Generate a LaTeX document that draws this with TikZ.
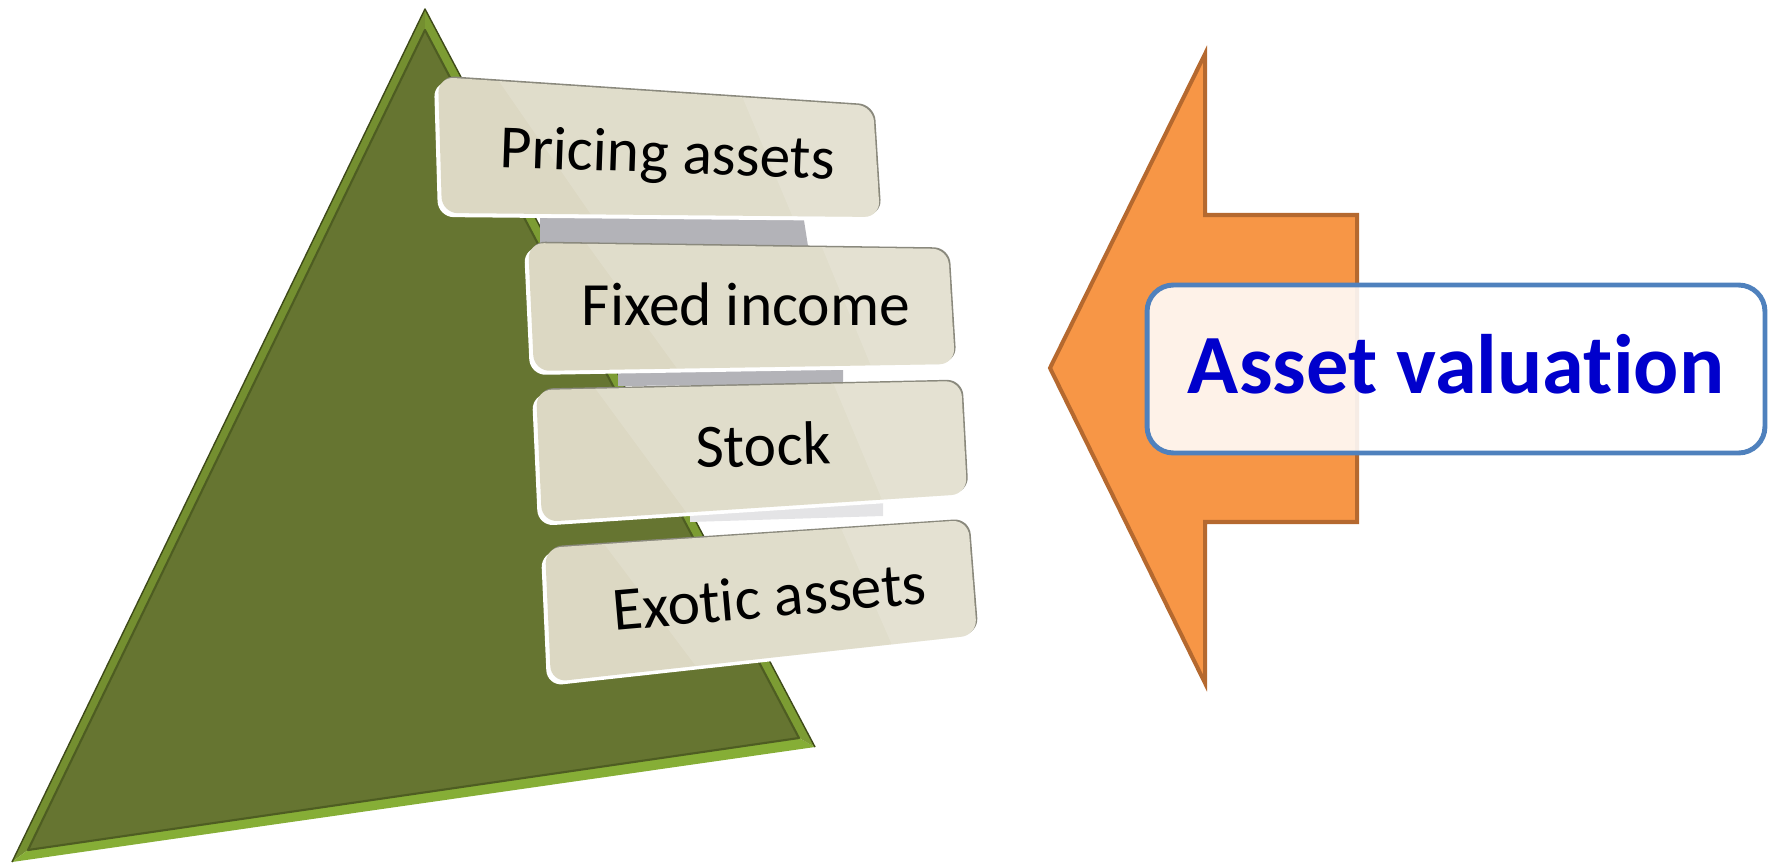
\documentclass[tikz,border=0pt]{standalone}
\usepackage{fontspec}
\setmainfont{Carlito}[Ligatures=NoCommon]
\usetikzlibrary{calc}
\definecolor{pyrFace}{HTML}{667531}
\definecolor{pyrLeft}{HTML}{748F30}
\definecolor{pyrBottom}{HTML}{86AE36}
\definecolor{pyrRight}{HTML}{7C9C33}
\definecolor{pyrDark}{HTML}{3E4A18}
\definecolor{pyrInner}{HTML}{4E5D22}
\definecolor{tierFill}{HTML}{DCD8C3}
\definecolor{tierLine}{HTML}{8A897D}
\definecolor{gapShade}{HTML}{B3B3B8}
\definecolor{arrowFill}{HTML}{F79646}
\definecolor{arrowLine}{HTML}{B5692F}
\definecolor{labelLine}{HTML}{4F81BD}
\definecolor{labelText}{HTML}{0000CC}
\tikzset{
  tierrim/.style={fill=white, rounded corners=9pt},
  tieredge/.style={fill=tierLine, rounded corners=9pt},
  tierbody/.style={fill=tierFill, rounded corners=9pt},
  tiergloss/.style={fill=white, opacity=0.14},
  tiertext/.style={anchor=base, font=\fontsize{35}{40}\selectfont, text=black, inner sep=0pt},
  gap/.style={fill=gapShade},
  bigarrow/.style={fill=arrowFill, draw=arrowLine, line width=2.3pt, line join=miter},
  labelbox/.style={draw=labelLine, line width=2.8pt, fill=white, fill opacity=0.88,
    rounded corners=15pt, minimum width=12.36cm, minimum height=3.36cm, inner sep=0pt},
}
% one tier of the stack: four corners (x,y), text position, rotation, name, text
\newcommand\tierbox[8]{%
  \coordinate (#7a) at (#1);
  \coordinate (#7b) at (#2);
  \coordinate (#7c) at (#3);
  \coordinate (#7d) at (#4);
  \fill[tierrim]  ([shift={(-4,4)}]#7a) -- ([shift={(-4,4)}]#7b) -- ([shift={(-4,4)}]#7c) -- ([shift={(-4,4)}]#7d) -- cycle;
  \fill[tieredge] ([shift={(1.5,-1.5)}]#7a) -- ([shift={(1.5,-1.5)}]#7b) -- ([shift={(1.5,-1.5)}]#7c) -- ([shift={(1.5,-1.5)}]#7d) -- cycle;
  \fill[tierbody] (#7a) -- (#7b) -- (#7c) -- (#7d) -- cycle;
  \begin{scope}
    \clip[rounded corners=9pt] (#7a) -- (#7b) -- (#7c) -- (#7d) -- cycle;
    \fill[tiergloss] ($(#7a)!0.14!(#7b)$) -- (#7b) -- (#7c) -- ($(#7d)!0.34!(#7c)$) -- cycle;
    \fill[tiergloss] ($(#7a)!0.70!(#7b)$) -- (#7b) -- (#7c) -- ($(#7d)!0.80!(#7c)$) -- cycle;
  \end{scope}
  \node[tiertext, rotate=#6] (#7) at (#5) {#8};
}
\begin{document}
\begin{tikzpicture}[x=0.02cm, y=-0.02cm]
\useasboundingbox (0,0) rectangle (1773,865);

% pyramid with bevelled edges
\coordinate (A) at (425,9);
\coordinate (B) at (12,862);
\coordinate (C) at (815,747);
\coordinate (Ai) at (425,30);
\coordinate (Bi) at (28,850);
\coordinate (Ci) at (799,738);
\fill[pyrLeft]   (A) -- (B) -- (Bi) -- (Ai) -- cycle;
\fill[pyrBottom] (B) -- (C) -- (Ci) -- (Bi) -- cycle;
\fill[pyrRight]  (C) -- (A) -- (Ai) -- (Ci) -- cycle;
\fill[pyrFace]   (Ai) -- (Bi) -- (Ci) -- cycle;
\draw[pyrInner, line width=1.2pt, line join=round] (Ai) -- (Bi) -- (Ci) -- cycle;
\draw[pyrDark, line width=0.8pt, line join=round] (B) -- (A) -- (C);

% shading in the gaps between tiers
\fill[gap] (540,214) -- (803,214) -- (808,246) -- (540,246) -- cycle;
\fill[gap] (618,362) -- (843,360) -- (843,384) -- (618,386) -- cycle;
\fill[gapShade!35] (690,500) -- (883,494) -- (883,516) -- (690,522) -- cycle;

% tiers
\tierbox{438,77}{873,106}{880,217}{442,213}{667,173}{-2}{t1}{Pricing assets}
\tierbox{528,243}{948,249}{955,364}{534,371}{746,325}{0}{t2}{Fixed income}
\tierbox{536,390}{961,381}{967,494}{542,522}{764,466}{1.5}{t3}{Stock}
\tierbox{545,548}{968,520}{977,635}{551,682}{771,617}{5}{t4}{Exotic assets}

% arrow pointing to the stack
\draw[bigarrow] (1050,368) -- (1205,54) -- (1205,215) -- (1357,215) -- (1357,522)
  -- (1205,522) -- (1205,683) -- cycle;

% label
\node[labelbox] (val) at (1456,369) {};
\node[anchor=base, font=\bfseries\fontsize{48}{56}\selectfont, text=labelText, inner sep=0pt]
  (valtext) at (1456,393) {Asset valuation};
\end{tikzpicture}
\end{document}
